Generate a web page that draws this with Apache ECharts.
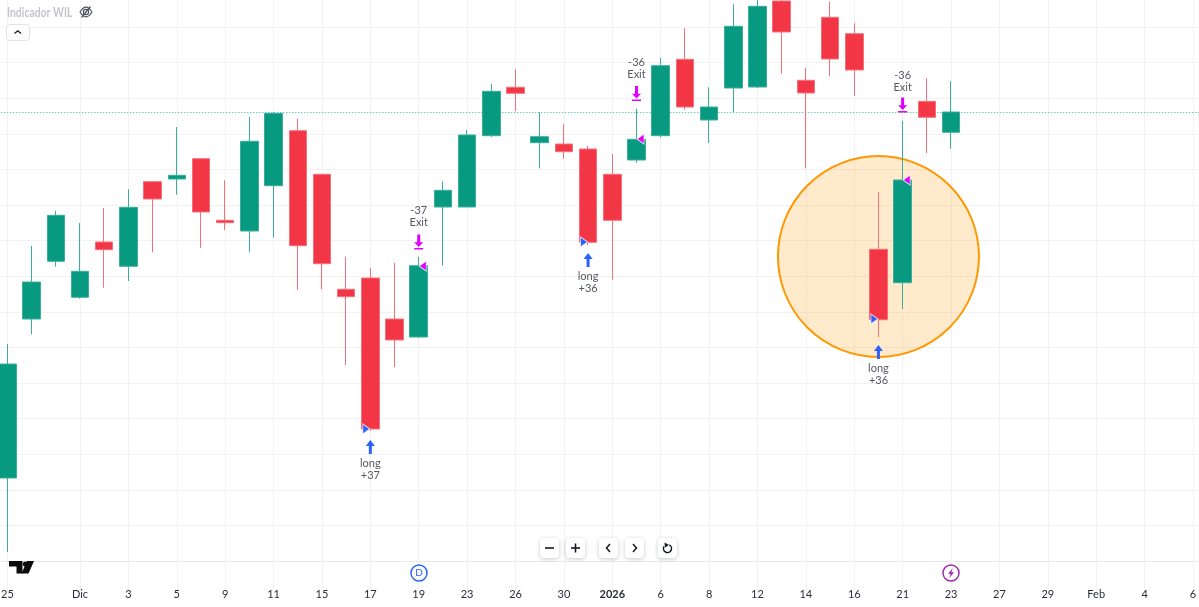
<!DOCTYPE html>
<html>
<head>
<meta charset="utf-8">
<style>html,body{margin:0;padding:0;background:#fff}#c{width:1199px;height:607px}</style>
<script src="https://cdn.jsdelivr.net/npm/echarts@6/dist/echarts.min.js"></script>
</head>
<body>
<div id="c"></div>
<script>
// Daily sessions on the time axis (first label of month shown as month name)
const categories = ['25','26','28','Dic','2','3','4','5','8','9','10','11','12','15','16','17','18','19','22','23','24','26','29','30','31','2026','5','6','7','8','9','12','13','14','15','16','20','21','22','23','26','27','28','29','30','Feb','3','4','5','6'];
// OHLC, one small list per field
const opens  = [83,242,299.7,263.7,319,294.7,379.3,382,402.3,340.7,330,375.3,430.3,386.7,271.7,283,242,224,354,354,425.3,473.7,418.3,417,412,386.7,401,425.3,501.7,441,473,474,560,480.7,543.7,527.3,311.7,278.3,459.7,428.7];
const closes = [197,279,345.7,289.7,311.3,353.7,362,385.7,349,338.3,419.7,447.7,315.3,297.3,264.3,132,221,295.3,370.7,426,469.7,467.7,424.3,409.3,318.7,340.7,421.7,495.3,454,454,534.7,554.7,529,468,502,491,241.3,381,443.7,449];
const lows   = [9,226.7,294.3,262.3,273.3,280,308.7,366.3,313,331,308.7,323.3,271,271.7,196,130,194,223,295.3,354,424,450,392.7,402.3,315.7,281.3,398.3,423.3,451.3,418,448.7,473,487.3,392.7,484.7,465,224,252,408,412.3];
const highs  = [217,315,350.3,338,353,371.7,380,434,402.7,380.7,444,448.7,442.3,387.3,304.3,293,298,304.3,379.7,431,477,491.7,448.7,436.7,415,407,452.3,503.3,533,473.7,556.7,564,564,493.3,559.3,537.7,369.3,440,482.7,479.7];
const lastPrice = 448.5;
const priceStep = 35.6;
const priceMax = 569.6;
// Trades
const entries = [15,24,36];
const entryFill = [132,319,242];
const entryArrow = [114,301,209];
const entryText = [91.5,278.5,186.5];
const entrySize = ['+37','+36','+36'];
const exits = [17,26,37];
const exitFill = [295,422,381];
const exitArrow = [319,467.5,456];
const exitText = [345,493,480];
const exitSize = ['-37','-36','-36'];
// Highlight circle
const circleAt = [36,304.5];

const GREEN='#089981', RED='#F23645', GREENW='#3aae9b', REDW='#f6707b', BLUE='#2962FF', MAG='#E000FF', GRID='#f2f2f2';
const FONT='Lato, "Open Sans", sans-serif';
const showTick = i => i===0 || (i>=3 && i%2===1);

function btn(x,w){return {type:'rect',shape:{x:x,y:538,width:w,height:20,r:4},style:{fill:'#fff',shadowBlur:4,shadowColor:'rgba(0,0,0,.22)',shadowOffsetY:1},z:20};}
function stroke(o,col,lw){return Object.assign({z:21,style:{stroke:col||'#131722',lineWidth:lw||1.5,fill:'none'}},o);}
const graphic=[
 {type:'text',x:7,y:6.5,scaleX:0.8,z:20,style:{text:'Indicador WIL',fontFamily:FONT,fontSize:13,fontWeight:'bold',fill:'#c4c6cc'}},
 stroke({type:'bezierCurve',shape:{x1:80,y1:12,x2:92,y2:12,cpx1:84,cpy1:5.5,cpx2:88,cpy2:5.5}},'#50535e',1.2),
 stroke({type:'bezierCurve',shape:{x1:80,y1:12,x2:92,y2:12,cpx1:84,cpy1:18.5,cpx2:88,cpy2:18.5}},'#50535e',1.2),
 stroke({type:'circle',shape:{cx:86,cy:12,r:2.6}},'#50535e',1.2),
 stroke({type:'line',shape:{x1:81.5,y1:17.5,x2:90.5,y2:6.5}},'#50535e',1.2),
 {type:'rect',z:20,shape:{x:6.5,y:24.5,width:23,height:16,r:3},style:{fill:'#fff',stroke:'#e0e3eb',lineWidth:1}},
 stroke({type:'polyline',shape:{points:[[14.5,33.5],[17.8,30.8],[21,33.5]]}},'#131722',1.3),
 {type:'polygon',z:20,shape:{points:[[9,561],[22.5,561],[22.5,573.5],[16.5,573.5],[16.5,566.5],[9,566.5]]},style:{fill:'#0b0b0b'}},
 {type:'circle',z:20,shape:{cx:25.5,cy:564,r:2.6},style:{fill:'#0b0b0b'}},
 {type:'polygon',z:20,shape:{points:[[27,561],[34,561],[28.5,573.5],[21.5,573.5]]},style:{fill:'#0b0b0b'}},
 {type:'circle',z:20,shape:{cx:419,cy:573,r:8},style:{fill:'#fff',stroke:BLUE,lineWidth:1.5}},
 {type:'text',z:21,x:419,y:573,style:{text:'D',fontFamily:FONT,fontSize:10,fill:BLUE,align:'center',verticalAlign:'middle'}},
 {type:'circle',z:20,shape:{cx:951,cy:573,r:8},style:{fill:'#fff',stroke:'#9C27B0',lineWidth:1.5}},
 {type:'polygon',z:21,shape:{points:[[952.8,568],[948,573.8],[950.6,573.8],[949.4,578],[954,572.2],[951.4,572.2]]},style:{fill:'#9C27B0'}},
 btn(540,19),btn(566,19),btn(599,19),btn(625,19),btn(658,19),
 stroke({type:'line',shape:{x1:545,y1:548,x2:554,y2:548}},'#131722',1.6),
 stroke({type:'line',shape:{x1:571,y1:548,x2:580,y2:548}},'#131722',1.6),
 stroke({type:'line',shape:{x1:575.5,y1:543.5,x2:575.5,y2:552.5}},'#131722',1.6),
 stroke({type:'polyline',shape:{points:[[610,544],[606.5,548],[610,552]]}}),
 stroke({type:'polyline',shape:{points:[[633,544],[636.5,548],[633,552]]}}),
 stroke({type:'arc',shape:{cx:667.5,cy:548.5,r:4,startAngle:-1.1,endAngle:-2.6,clockwise:true}}),
 {type:'polygon',z:21,shape:{points:[[664.5,542.5],[669,545],[665,547.5]]},style:{fill:'#131722'}}
];

const option={
 animation:false,
 backgroundColor:'#fff',
 tooltip:{show:false},
 graphic:graphic,
 grid:{left:-4.7,top:-8.6,width:1209.8,height:569.6,containLabel:false,outerBoundsMode:'none'},
 xAxis:{type:'category',data:categories,boundaryGap:true,
  axisLine:{show:true,lineStyle:{color:'#e9e9e9',width:1}},
  axisTick:{show:true,alignWithLabel:true,length:31,interval:(i)=>showTick(i),lineStyle:{color:GRID}},
  splitLine:{show:true,alignWithLabel:true,interval:(i)=>showTick(i),lineStyle:{color:GRID,width:1}},
  axisLabel:{show:true,interval:(i)=>showTick(i),margin:28,hideOverlap:false,color:'#2a2e39',fontFamily:FONT,fontSize:11,
   formatter:v=>v==='2026'?'{b|2026}':v,rich:{b:{fontWeight:'bold',fontFamily:FONT,fontSize:11,color:'#2a2e39'}}}},
 yAxis:{type:'value',min:0,max:priceMax,interval:priceStep,
  axisLine:{show:false},axisTick:{show:false},axisLabel:{show:false},
  splitLine:{show:true,lineStyle:{color:GRID,width:1}}},
 series:[
  {type:'scatter',z:1,silent:true,clip:false,symbol:'circle',symbolSize:201,data:[circleAt],
   itemStyle:{color:'rgba(255,152,0,0.2)',borderColor:'#FF9800',borderWidth:2,opacity:1}},
  {type:'candlestick',z:2,silent:true,barWidth:18,
   data:opens.map((o,i)=>[o,closes[i],lows[i],highs[i]]),
   itemStyle:{color:GREEN,color0:RED,borderColor:GREENW,borderColor0:REDW,borderWidth:1},
   markLine:{silent:true,z:1,symbol:'none',label:{show:false},animation:false,
    lineStyle:{color:'#22b5a0',type:[1,2],width:1,opacity:1},data:[{yAxis:lastPrice}]}},
  {type:'scatter',z:3,silent:true,symbol:'path://M4.5 0L9 6H6V14H3V6H0Z',symbolSize:[9,14],
   itemStyle:{color:BLUE,opacity:1},data:entries.map((x,i)=>[x,entryArrow[i]])},
  {type:'scatter',z:3,silent:true,symbol:'path://M3 0H6V8H9L4.5 13L0 8H3ZM0 14H9V15.5H0Z',symbolSize:[9,15],
   itemStyle:{color:MAG,opacity:1},data:exits.map((x,i)=>[x,exitArrow[i]])},
  {type:'scatter',z:4,silent:true,symbol:'path://M0 0L7 5L0 10Z',symbolSize:[7,10],symbolOffset:[-4,0],
   itemStyle:{color:BLUE,borderColor:'rgba(255,255,255,.75)',borderWidth:1,opacity:1},data:entries.map((x,i)=>[x,entryFill[i]])},
  {type:'scatter',z:4,silent:true,symbol:'path://M7 0L0 5L7 10Z',symbolSize:[7,10],symbolOffset:[4,0],
   itemStyle:{color:MAG,borderColor:'rgba(255,255,255,.75)',borderWidth:1,opacity:1},data:exits.map((x,i)=>[x,exitFill[i]])},
  {type:'scatter',z:5,silent:true,symbol:'circle',symbolSize:1,itemStyle:{color:'rgba(0,0,0,0)'},
   label:{show:true,position:'inside',fontFamily:FONT,fontSize:11,lineHeight:12,color:'#2a2e39',align:'center',verticalAlign:'middle',
    formatter:p=>'long\n'+entrySize[p.dataIndex]},
   data:entries.map((x,i)=>[x,entryText[i]])},
  {type:'scatter',z:5,silent:true,symbol:'circle',symbolSize:1,itemStyle:{color:'rgba(0,0,0,0)'},
   label:{show:true,position:'inside',fontFamily:FONT,fontSize:11,lineHeight:12,color:'#2a2e39',align:'center',verticalAlign:'middle',
    formatter:p=>exitSize[p.dataIndex]+'\nExit'},
   data:exits.map((x,i)=>[x,exitText[i]])}
 ]
};
const chart=echarts.init(document.getElementById('c'),null,{renderer:'canvas',width:1199,height:607});
chart.setOption(option);
</script>
</body>
</html>
